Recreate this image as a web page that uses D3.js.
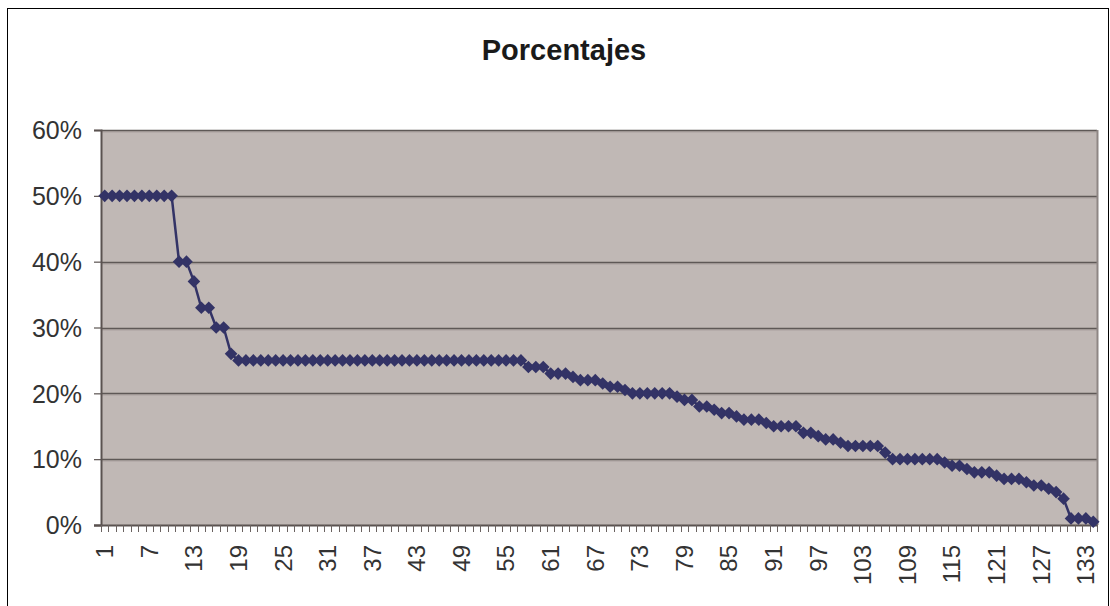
<!DOCTYPE html>
<html>
<head>
<meta charset="utf-8">
<script src="https://cdn.jsdelivr.net/npm/d3@7"></script>
<style>
  html, body { margin: 0; padding: 0; background: #ffffff; }
  svg { display: block; }
  text { font-family: "Liberation Sans", Arial, sans-serif; }
</style>
</head>
<body>
<svg id="chart" width="1110" height="606"></svg>
<script>
// ---- data ----
const title = "Porcentajes";
const categories = d3.range(1, 135); // 1..134
const values = [
  50, 50, 50, 50, 50, 50, 50, 50, 50, 50,          // 1-10
  40, 40, 37, 33, 33, 30, 30, 26,                  // 11-18
  25, 25, 25, 25, 25, 25, 25, 25, 25, 25,          // 19-28
  25, 25, 25, 25, 25, 25, 25, 25, 25, 25,          // 29-38
  25, 25, 25, 25, 25, 25, 25, 25, 25, 25,          // 39-48
  25, 25, 25, 25, 25, 25, 25, 25, 25,              // 49-57
  24, 24, 24, 23, 23, 23, 22.5, 22, 22, 22,        // 58-67
  21.5, 21, 21, 20.5, 20, 20, 20, 20, 20, 20,      // 68-77
  19.5, 19, 19, 18, 18, 17.5, 17, 17, 16.5, 16,    // 78-87
  16, 16, 15.5, 15, 15, 15, 15, 14, 14, 13.5,      // 88-97
  13, 13, 12.5, 12, 12, 12, 12, 12, 11, 10,        // 98-107
  10, 10, 10, 10, 10, 10, 9.5, 9, 9, 8.5,          // 108-117
  8, 8, 8, 7.5, 7, 7, 7, 6.5, 6, 6,                // 118-127
  5.5, 5, 4, 1, 1, 1, 0.5                          // 128-134
];
const yTicks = [0, 10, 20, 30, 40, 50, 60];
const xLabelStep = 6;

// ---- layout ----
const svg = d3.select("#chart");
const plot = { left: 101, right: 1097, top: 130, bottom: 525 };

// outer chart border
svg.append("rect")
  .attr("x", 7.5).attr("y", 8.5)
  .attr("width", 1101).attr("height", 620)
  .attr("fill", "#ffffff").attr("stroke", "#000000").attr("stroke-width", 1);

const x = d3.scaleBand().domain(categories).range([plot.left, plot.right]).paddingInner(0).paddingOuter(0);
const y = d3.scaleLinear().domain([0, 60]).range([plot.bottom, plot.top]);

// plot background
svg.append("rect")
  .attr("x", plot.left).attr("y", plot.top)
  .attr("width", plot.right - plot.left).attr("height", plot.bottom - plot.top)
  .attr("fill", "#c0b8b5");

// gridlines
svg.append("g").selectAll("line").data(yTicks.filter(t => t > 0)).join("line")
  .attr("x1", plot.left).attr("x2", plot.right)
  .attr("y1", d => Math.round(y(d)) + 0.5).attr("y2", d => Math.round(y(d)) + 0.5)
  .attr("stroke", "#5e5856").attr("stroke-width", 1.5);
svg.append("g").selectAll("line").data(yTicks.filter(t => t > 0)).join("line")
  .attr("x1", plot.left).attr("x2", plot.right)
  .attr("y1", d => Math.round(y(d)) + 1.8).attr("y2", d => Math.round(y(d)) + 1.8)
  .attr("stroke", "#9a9290").attr("stroke-width", 1);

// right border of plot
svg.append("line")
  .attr("x1", plot.right + 0.5).attr("x2", plot.right + 0.5)
  .attr("y1", plot.top).attr("y2", plot.bottom)
  .attr("stroke", "#8e8684").attr("stroke-width", 2);

// y axis
const yAxis = d3.axisLeft(y).tickValues(yTicks).tickSize(7).tickPadding(12)
  .tickFormat(d => d + "%");
const gy = svg.append("g").attr("transform", `translate(${plot.left},0)`).call(yAxis);
gy.select(".domain").attr("stroke", "#5a5250").attr("stroke-width", 2);
gy.selectAll(".tick line").attr("stroke", "#5a5250").attr("stroke-width", 1.2);
gy.selectAll(".tick text").attr("font-size", 25).attr("fill", "#333333").attr("dy", "0.35em");

// x axis line
svg.append("line")
  .attr("x1", plot.left - 7).attr("x2", plot.right + 1)
  .attr("y1", plot.bottom + 0.5).attr("y2", plot.bottom + 0.5)
  .attr("stroke", "#5a5250").attr("stroke-width", 2);

// x ticks between categories
const tickPos = categories.map(c => x(c)).concat([plot.right]);
svg.append("g").selectAll("line").data(tickPos).join("line")
  .attr("x1", d => Math.round(d) + 0.5).attr("x2", d => Math.round(d) + 0.5)
  .attr("y1", plot.bottom).attr("y2", plot.bottom + 7)
  .attr("stroke", "#6a6260").attr("stroke-width", 1);

// x labels
const labelCats = categories.filter((c, i) => i % xLabelStep === 0);
svg.append("g").selectAll("text").data(labelCats).join("text")
  .attr("transform", d => `translate(${x(d) + x.bandwidth() / 2},545) rotate(-90)`)
  .attr("text-anchor", "end")
  .attr("dy", "0.35em")
  .attr("font-size", 24)
  .attr("fill", "#333333")
  .text(d => d);

// series line
const pts = categories.map((c, i) => ({ c, v: values[i] }));
const line = d3.line().x(d => x(d.c) + x.bandwidth() / 2).y(d => y(d.v));
svg.append("path").datum(pts)
  .attr("d", line)
  .attr("fill", "none").attr("stroke", "#333366").attr("stroke-width", 2.5);

// diamond markers
const r = 6.3;
svg.append("g").selectAll("path").data(pts).join("path")
  .attr("transform", d => `translate(${x(d.c) + x.bandwidth() / 2},${y(d.v)})`)
  .attr("d", `M0,${-r}L${r},0L0,${r}L${-r},0Z`)
  .attr("fill", "#333366");

// title
svg.append("text")
  .attr("x", 564).attr("y", 60)
  .attr("text-anchor", "middle")
  .attr("font-size", 29).attr("font-weight", "bold")
  .attr("fill", "#1a1a1a")
  .text(title);
</script>
</body>
</html>
